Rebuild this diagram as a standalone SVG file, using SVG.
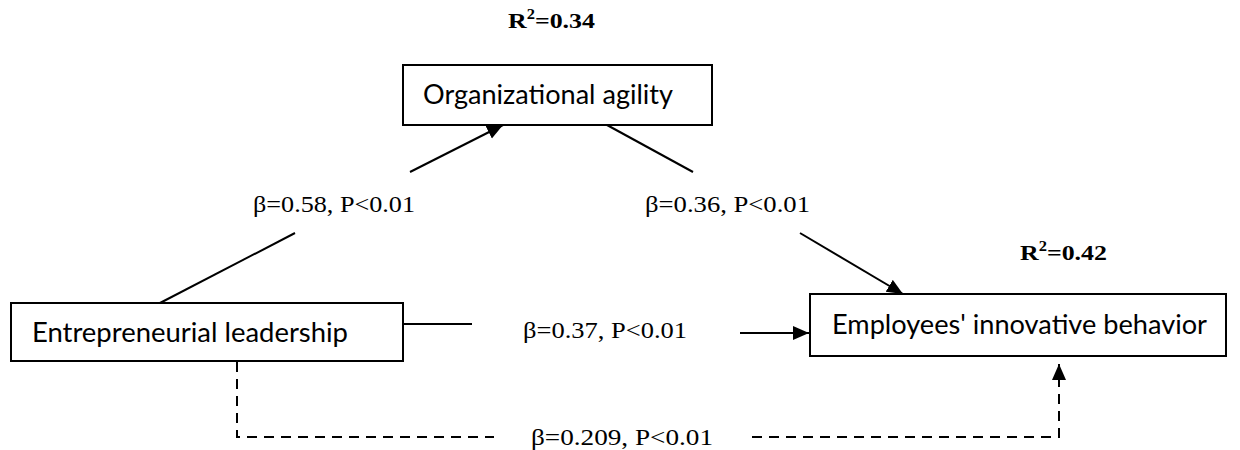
<svg xmlns="http://www.w3.org/2000/svg" width="1240" height="450" viewBox="0 0 1240 450">
<style>
.box{fill:#fff;stroke:#000;stroke-width:2}
.nt{font-family:Lato,"Open Sans","Liberation Sans",sans-serif;font-size:26px;fill:#000}
.lab{font-family:"Liberation Serif","Times New Roman",serif;font-size:24px;fill:#000}
.r2{font-family:"Liberation Serif","Times New Roman",serif;font-size:22px;font-weight:bold;fill:#000}
.ln{stroke:#000;stroke-width:2;fill:none}
.dash{stroke:#000;stroke-width:2;fill:none;stroke-dasharray:10 7}
</style>
<defs>
<marker id="ah" markerUnits="userSpaceOnUse" markerWidth="18" markerHeight="16" refX="16" refY="7" orient="auto">
<path d="M0,0 L16,7 L0,14 z" fill="#000"/>
</marker>
</defs>
<text class="r2" x="508" y="28" textLength="87" lengthAdjust="spacingAndGlyphs">R<tspan font-size="14" dy="-9">2</tspan><tspan dy="9">=0.34</tspan></text>
<text class="r2" x="1020" y="260" textLength="87" lengthAdjust="spacingAndGlyphs">R<tspan font-size="14" dy="-9">2</tspan><tspan dy="9">=0.42</tspan></text>
<g id="connectors">
<line class="ln" x1="410" y1="172" x2="503" y2="125" marker-end="url(#ah)"/>
<line class="ln" x1="295" y1="233" x2="160" y2="303"/>
<line class="ln" x1="607" y1="125" x2="693" y2="172"/>
<line class="ln" x1="800" y1="233" x2="903" y2="294" marker-end="url(#ah)"/>
<line class="ln" x1="403" y1="324" x2="472" y2="324"/>
<line class="ln" x1="740" y1="333" x2="809" y2="333" marker-end="url(#ah)"/>
<polyline class="dash" points="237,362 237,437 494,437"/>
<polyline class="dash" points="752,437 1059,437 1059,364" marker-end="url(#ah)"/>
<text class="lab" x="253" y="212" textLength="162" lengthAdjust="spacingAndGlyphs">β=0.58, P&lt;0.01</text>
<text class="lab" x="645" y="212" textLength="165" lengthAdjust="spacingAndGlyphs">β=0.36, P&lt;0.01</text>
<text class="lab" x="523" y="338" textLength="164" lengthAdjust="spacingAndGlyphs">β=0.37, P&lt;0.01</text>
<text class="lab" x="531" y="445" textLength="182" lengthAdjust="spacingAndGlyphs">β=0.209, P&lt;0.01</text>
</g>
<g id="node-oa">
<rect class="box" x="403" y="65" width="309" height="60"/>
<text class="nt" x="423" y="104" textLength="250" lengthAdjust="spacingAndGlyphs">Organizational agility</text>
</g>
<g id="node-el">
<rect class="box" x="11" y="303" width="392" height="58"/>
<text class="nt" x="32" y="342" textLength="316" lengthAdjust="spacingAndGlyphs">Entrepreneurial leadership</text>
</g>
<g id="node-eib">
<rect class="box" x="810" y="294" width="416" height="62"/>
<text class="nt" x="832" y="334" textLength="375" lengthAdjust="spacingAndGlyphs">Employees' innovative behavior</text>
</g>
</svg>
